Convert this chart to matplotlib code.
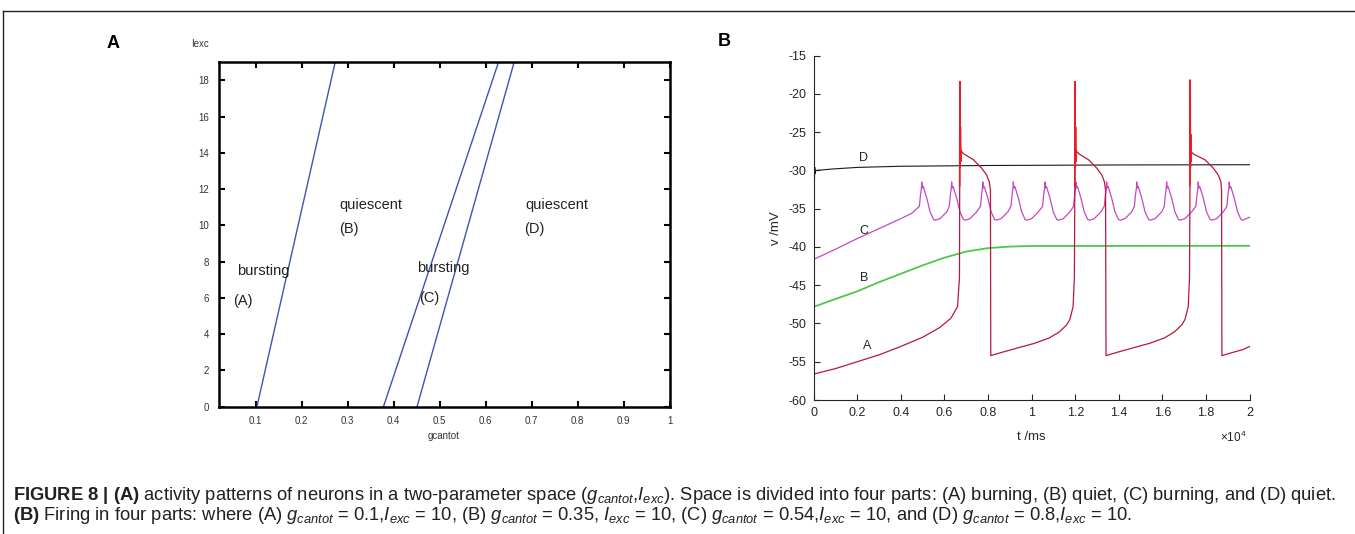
import matplotlib
matplotlib.use('Agg')
import matplotlib.pyplot as plt
from matplotlib import font_manager
from matplotlib.lines import Line2D
from matplotlib.ticker import FixedLocator, FixedFormatter
import numpy as np


def pick(*names):
    avail = {f.name for f in font_manager.fontManager.ttflist}
    for n in names:
        if n in avail:
            return n
    return 'DejaVu Sans'


SANS = pick('Liberation Sans', 'Arial', 'DejaVu Sans')
plt.rcParams['font.family'] = [SANS, 'DejaVu Sans']
plt.rcParams['mathtext.fontset'] = 'custom'
plt.rcParams['mathtext.rm'] = SANS
plt.rcParams['mathtext.it'] = SANS + ':italic'
plt.rcParams['mathtext.bf'] = SANS + ':bold'

# ---------------- Panel A data ----------------
gcantot_ticks = [0.1, 0.2, 0.3, 0.4, 0.5, 0.6, 0.7, 0.8, 0.9, 1.0]
gcantot_labels = ['0.1', '0.2', '0.3', '0.4', '0.5', '0.6', '0.7', '0.8', '0.9', '1']
iexc_ticks = [0, 2, 4, 6, 8, 10, 12, 14, 16, 18]
iexc_labels = ['0', '2', '4', '6', '8', '10', '12', '14', '16', '18']
boundary_iexc = [0, 19]
boundary1_g = [0.103, 0.273]
boundary2_g = [0.378, 0.628]
boundary3_g = [0.451, 0.662]
region_texts = ['bursting', '(A)', 'quiescent', '(B)', 'bursting', '(C)', 'quiescent', '(D)']
region_g = [0.117, 0.072, 0.350, 0.302, 0.509, 0.477, 0.756, 0.707]
region_i = [7.5, 5.83, 11.14, 9.8, 7.65, 6.0, 11.14, 9.8]

# ---------------- Panel B data (t in ms, v in mV) ----------------
t_ticks = [0, 2000, 4000, 6000, 8000, 10000, 12000, 14000, 16000, 18000, 20000]
t_labels = ['0', '0.2', '0.4', '0.6', '0.8', '1', '1.2', '1.4', '1.6', '1.8', '2']
v_ticks = [-60, -55, -50, -45, -40, -35, -30, -25, -20, -15]
v_labels = ['-60', '-55', '-50', '-45', '-40', '-35', '-30', '-25', '-20', '-15']

# trace A (gcantot = 0.1)
a_t = [0, 20, 1000, 2000, 3000, 4000, 5000, 5800, 6300, 6600, 6690, 6700, 6710, 6720, 6730, 6745, 6760,
       6870, 7330, 7710, 7940, 8060, 8110, 8125,
       8600, 9100, 10120, 10800, 11270, 11600, 11750, 11900, 11960, 11980, 11990, 12000, 12010, 12025, 12040,
       12150, 12610, 12990, 13220, 13340, 13390, 13410,
       13880, 14380, 15400, 16080, 16550, 16880, 17030, 17180, 17240, 17260, 17270, 17280, 17290, 17305, 17320,
       17450, 17950, 18330, 18560, 18680, 18710, 18725,
       19200, 19700, 20000]
a_v = [-48.0, -56.6, -55.9, -55.0, -54.1, -53.0, -51.8, -50.5, -49.3, -47.8, -44.0, -32.0, -18.4, -29.5, -24.3, -28.8, -27.4,
       -27.8, -28.6, -29.7, -30.6, -31.5, -32.6, -54.2,
       -53.8, -53.4, -52.6, -51.9, -51.1, -50.2, -49.5, -47.8, -44.0, -32.0, -18.4, -29.5, -24.3, -28.8, -27.4,
       -27.8, -28.6, -29.7, -30.6, -31.5, -32.6, -54.2,
       -53.8, -53.4, -52.6, -51.9, -51.1, -50.2, -49.5, -47.8, -44.0, -32.0, -18.2, -29.5, -25.3, -28.8, -27.6,
       -27.9, -28.6, -29.7, -30.6, -31.5, -32.6, -54.2,
       -53.8, -53.4, -53.0]
a_spike_times = [6710, 11990, 17270]

# trace B (gcantot = 0.35)
b_t = [0, 20, 1000, 2000, 3000, 4000, 5000, 6000, 7000, 8000, 9000, 10000, 20000]
b_v = [-42.0, -47.8, -46.8, -45.8, -44.6, -43.5, -42.4, -41.4, -40.6, -40.15, -39.95, -39.87, -39.85]

# trace C (gcantot = 0.54)
c_t = [0, 20, 1000, 2000, 3000, 4000, 4500,
       4850, 4910, 4945, 4960, 4985, 5030, 5190, 5340, 5500, 5580, 5800, 6110,
       6220, 6280, 6315, 6330, 6355, 6400, 6560, 6710, 6870, 6950, 7170, 7480,
       7650, 7710, 7745, 7760, 7785, 7830, 7990, 8140, 8300, 8380, 8600, 8910,
       9050, 9110, 9145, 9160, 9185, 9230, 9390, 9540, 9700, 9780, 10000, 10310,
       10500, 10560, 10595, 10610, 10635, 10680, 10840, 10990, 11150, 11230, 11450, 11760,
       11920, 11980, 12015, 12030, 12055, 12100, 12260, 12410, 12570, 12650, 12870, 13180,
       13330, 13390, 13425, 13440, 13465, 13510, 13670, 13820, 13980, 14060, 14280, 14590,
       14710, 14770, 14805, 14820, 14845, 14890, 15050, 15200, 15360, 15440, 15660, 15970,
       16080, 16140, 16175, 16190, 16215, 16260, 16420, 16570, 16730, 16810, 17030, 17340,
       17530, 17590, 17625, 17640, 17665, 17710, 17870, 18020, 18180, 18260, 18480, 18790,
       18950, 19010, 19045, 19060, 19085, 19130, 19290, 19440, 19600, 19680, 20000]
c_v = [-37.0, -41.6, -40.3, -38.9, -37.6, -36.3, -35.6,
       -34.7, -33.0, -32.3, -31.5, -32.3, -32.1, -33.6, -35.4, -36.4, -36.5, -36.3, -35.4,
       -34.7, -33.0, -32.3, -31.5, -32.3, -32.1, -33.6, -35.4, -36.4, -36.5, -36.3, -35.4,
       -34.7, -33.0, -32.3, -31.5, -32.3, -32.1, -33.6, -35.4, -36.4, -36.5, -36.3, -35.4,
       -34.7, -33.0, -32.3, -31.5, -32.3, -32.1, -33.6, -35.4, -36.4, -36.5, -36.3, -35.4,
       -34.7, -33.0, -32.3, -31.5, -32.3, -32.1, -33.6, -35.4, -36.4, -36.5, -36.3, -35.4,
       -34.7, -33.0, -32.3, -31.5, -32.3, -32.1, -33.6, -35.4, -36.4, -36.5, -36.3, -35.4,
       -34.7, -33.0, -32.3, -31.5, -32.3, -32.1, -33.6, -35.4, -36.4, -36.5, -36.3, -35.4,
       -34.7, -33.0, -32.3, -31.5, -32.3, -32.1, -33.6, -35.4, -36.4, -36.5, -36.3, -35.4,
       -34.7, -33.0, -32.3, -31.5, -32.3, -32.1, -33.6, -35.4, -36.4, -36.5, -36.3, -35.4,
       -34.7, -33.0, -32.3, -31.5, -32.3, -32.1, -33.6, -35.4, -36.4, -36.5, -36.3, -35.4,
       -34.7, -33.0, -32.3, -31.5, -32.3, -32.1, -33.6, -35.4, -36.4, -36.5, -36.1]

# trace D (gcantot = 0.8)
d_t = [0, 10, 20, 30, 40, 55, 70, 100, 900, 2000, 4000, 8000, 14000, 20000]
d_v = [-30.0, -28.6, -32.4, -29.0, -31.2, -29.6, -30.4, -30.0, -29.8, -29.6, -29.45, -29.35, -29.28, -29.25]

trace_names = ['A', 'B', 'C', 'D']
trace_label_t = [2450, 2320, 2300, 2280]
trace_label_v = [-53.0, -44.1, -37.9, -28.4]

caption1 = (r"$\mathbf{FIGURE\ 8\ |\ (A)}$ activity patterns of neurons in a two-parameter space "
            r"($g_{cantot}$,$I_{exc}$). Space is divided into four parts: (A) burning, (B) quiet, "
            r"(C) burning, and (D) quiet.")
caption2 = (r"$\mathbf{(B)}$ Firing in four parts: where (A) $g_{cantot}$ = 0.1,$I_{exc}$ = 10, "
            r"(B) $g_{cantot}$ = 0.35, $I_{exc}$ = 10, (C) $g_{cantot}$ = 0.54,$I_{exc}$ = 10, "
            r"and (D) $g_{cantot}$ = 0.8,$I_{exc}$ = 10.")

# ---------------- Figure ----------------
W, H = 1355, 534
fig = plt.figure(figsize=(W / 100, H / 100), dpi=100)
fig.patch.set_facecolor('white')


def fx(px):
    return px / W


def fy(py):
    return 1 - py / H


# frame lines
fig.add_artist(Line2D([fx(3), 1.0], [fy(11), fy(11)], color='#222222', lw=1.0))
fig.add_artist(Line2D([fx(3), fx(3)], [0.0, fy(11)], color='#222222', lw=1.0))

# ---- Panel A ----
axA = fig.add_axes([fx(218.75), fy(406.7), fx(669.6 - 218.75), (406.7 - 62.3) / H])
for g in (boundary1_g, boundary2_g, boundary3_g):
    axA.plot(g, boundary_iexc, color='#3a55b4', lw=1.0)
axA.set_xlim(0.02, 1.0)
axA.set_ylim(0, 19)
axA.xaxis.set_major_locator(FixedLocator(gcantot_ticks))
axA.xaxis.set_major_formatter(FixedFormatter(gcantot_labels))
axA.yaxis.set_major_locator(FixedLocator(iexc_ticks))
axA.yaxis.set_major_formatter(FixedFormatter(iexc_labels))
axA.tick_params(direction='in', top=True, right=True, length=4, width=1.5,
                labelsize=7, labelcolor='#333333', pad=7)
for s in axA.spines.values():
    s.set_linewidth(1.8)
    s.set_color('black')
for txt, g, i in zip(region_texts, region_g, region_i):
    axA.text(g, i, txt, fontsize=10.5, color='#222222', ha='center', va='center')

fig.text(fx(200), fy(44), 'Iexc', fontsize=7, color='#333333', ha='center', va='center')
fig.text(fx(444), fy(436), 'gcantot', fontsize=7, color='#333333', ha='center', va='center')
fig.text(fx(113), fy(44), 'A', fontsize=13, fontweight='bold', ha='center', va='center')

# ---- Panel B ----
axB = fig.add_axes([fx(813.6), fy(400), fx(1249.7 - 813.6), (400 - 55.7) / H])
axB.plot(d_t, d_v, color='#1a1a1a', lw=0.8)
axB.plot(b_t, b_v, color='#4cc84c', lw=1.3)
axB.plot(c_t, c_v, color='#c448c4', lw=0.9)
axB.plot(a_t, a_v, color='#b8183c', lw=0.9)
a_t_arr = np.array(a_t)
a_v_arr = np.array(a_v)
for ts in a_spike_times:
    m = (a_t_arr >= ts - 10) & (a_t_arr <= ts + 50)
    axB.plot(a_t_arr[m], a_v_arr[m], color='#ee1c24', lw=1.2)
axB.set_xlim(0, 20000)
axB.set_ylim(-60, -15)
axB.xaxis.set_major_locator(FixedLocator(t_ticks))
axB.xaxis.set_major_formatter(FixedFormatter(t_labels))
axB.yaxis.set_major_locator(FixedLocator(v_ticks))
axB.yaxis.set_major_formatter(FixedFormatter(v_labels))
axB.tick_params(direction='in', length=4, width=0.8, labelsize=9,
                colors='#262626', pad=5)
axB.spines['top'].set_visible(False)
axB.spines['right'].set_visible(False)
for k in ('left', 'bottom'):
    axB.spines[k].set_linewidth(0.8)
    axB.spines[k].set_color('#262626')
for name, tt, vv in zip(trace_names, trace_label_t, trace_label_v):
    axB.text(tt, vv, name, fontsize=9, color='#262626', ha='center', va='center')

fig.text(fx(776), fy(228), 'v /mV', fontsize=9.5, color='#262626', rotation=90,
         ha='center', va='center')
fig.text(fx(1031), fy(437), 't /ms', fontsize=9.5, color='#262626', ha='center', va='center')
fig.text(fx(1233), fy(437), r'$\times10^{4}$', fontsize=8.5, color='#262626', ha='center', va='center')
fig.text(fx(724), fy(41), 'B', fontsize=13, fontweight='bold', ha='center', va='center')

# ---- Caption ----
fig.text(fx(13), fy(496), caption1, fontsize=13.2, color='#231f20', ha='left', va='center')
fig.text(fx(13), fy(515), caption2, fontsize=13.2, color='#231f20', ha='left', va='center')

fig.savefig('out.png', dpi=100, facecolor='white')
